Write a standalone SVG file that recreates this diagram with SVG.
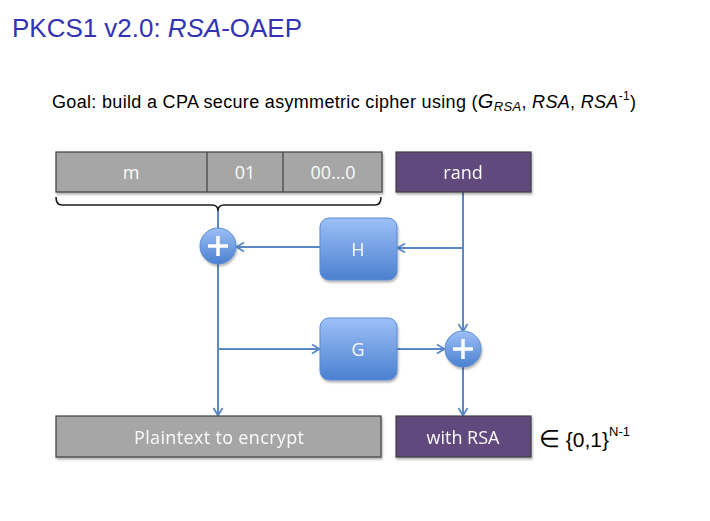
<svg xmlns="http://www.w3.org/2000/svg" width="710" height="521" viewBox="0 0 710 521">
<style>
  .title{font-family:"Liberation Sans",Arial,sans-serif;font-size:25px;fill:#3333b3}
  .goal{font-family:"Liberation Sans",Arial,sans-serif;font-size:18px;fill:#000}
  .lbl{font-family:"Open Sans","Liberation Sans",sans-serif;font-size:18px;fill:#fbfbfb;text-anchor:middle}
  .gray{fill:#a6a6a6;stroke:#3f3f3f;stroke-width:1.2}
  .purple{fill:#604a7b;stroke:#3f3f3f;stroke-width:1.2}
  .fn{fill:url(#bg);stroke:#5b8bd0;stroke-width:1}
  .conn{stroke:#5a87c5;stroke-width:2;fill:none}
  .brace{stroke:#1a1a1a;stroke-width:1.6;fill:none}
  .arr{stroke:#5a87c5;stroke-width:2;fill:none;marker-end:url(#ah)}
  .plus{stroke:#fff;stroke-width:3.5;stroke-linecap:butt}
  .math{font-family:"Liberation Sans",Arial,sans-serif;fill:#000}
</style>
<defs>
  <linearGradient id="bg" x1="0" y1="0" x2="0" y2="1">
    <stop offset="0" stop-color="#9dc0f7"/>
    <stop offset="1" stop-color="#4a80d0"/>
  </linearGradient>
  <filter id="sh" x="-10%" y="-10%" width="130%" height="140%">
    <feDropShadow dx="1" dy="2" stdDeviation="1.2" flood-color="#000" flood-opacity="0.3"/>
  </filter>
  <marker id="ah" markerWidth="12" markerHeight="12" refX="9" refY="6" orient="auto" markerUnits="userSpaceOnUse">
    <path d="M2,1.5 L9.5,6 L2,10.5" fill="none" stroke="#5a87c5" stroke-width="1.8"/>
  </marker>
</defs>
<rect width="710" height="521" fill="#fff"/>
<text class="title" x="12" y="37" textLength="290" lengthAdjust="spacingAndGlyphs">PKCS1 v2.0:  <tspan font-style="italic">RSA</tspan>-OAEP</text>
<text class="goal" x="52" y="108" textLength="584" lengthAdjust="spacing">Goal:  build a CPA secure asymmetric cipher using (<tspan font-style="italic" font-size="20">G</tspan><tspan font-style="italic" font-size="13" dy="3">RSA</tspan><tspan dy="-3">, </tspan><tspan font-style="italic">RSA</tspan>, <tspan font-style="italic">RSA</tspan><tspan font-size="12" dy="-8">-1</tspan><tspan dy="8">)</tspan></text>

<g id="connectors">
  <path class="brace" d="M56,197 Q56,205 62,205 L212,205 Q218,205 218,211 Q218,205 224,205 L375,205 Q381,205 381,197"/>
  <line class="conn" x1="218" y1="211" x2="218" y2="229"/>
  <line class="conn" x1="463" y1="192" x2="463" y2="248"/>
  <line class="arr" x1="463" y1="248" x2="398" y2="248"/>
  <line class="arr" x1="320" y1="247" x2="237" y2="247"/>
  <line class="arr" x1="463" y1="248" x2="463" y2="331"/>
  <line class="arr" x1="218" y1="264" x2="218" y2="415"/>
  <line class="arr" x1="218" y1="349" x2="319" y2="349"/>
  <line class="arr" x1="397" y1="349" x2="444" y2="349"/>
  <line class="arr" x1="463" y1="367" x2="463" y2="415"/>
</g>

<g id="top-bar" filter="url(#sh)">
  <rect class="gray" x="56" y="152" width="326" height="40"/>
  <line stroke="#3f3f3f" stroke-width="1.2" x1="207" y1="152" x2="207" y2="192"/>
  <line stroke="#3f3f3f" stroke-width="1.2" x1="283" y1="152" x2="283" y2="192"/>
</g>
<g id="m"><text class="lbl" x="131" y="179">m</text></g>
<g id="b01"><text class="lbl" x="245" y="179">01</text></g>
<g id="zeros"><text class="lbl" x="333" y="179">00…0</text></g>

<g id="rand" filter="url(#sh)">
  <rect class="purple" x="396" y="152" width="135" height="40"/>
  <text class="lbl" x="463" y="179">rand</text>
</g>

<g id="xor1" filter="url(#sh)">
  <circle cx="218" cy="246" r="18" fill="url(#bg)" stroke="#5b8bd0"/>
  <line class="plus" x1="208" y1="246" x2="228" y2="246"/>
  <line class="plus" x1="218" y1="236" x2="218" y2="256"/>
</g>

<g id="H" filter="url(#sh)">
  <rect class="fn" x="320" y="218" width="77" height="62" rx="9"/>
  <text class="lbl" x="358" y="256" font-size="17">H</text>
</g>

<g id="G" filter="url(#sh)">
  <rect class="fn" x="320" y="318" width="77" height="62" rx="9"/>
  <text class="lbl" x="358" y="356" font-size="17">G</text>
</g>

<g id="xor2" filter="url(#sh)">
  <circle cx="463" cy="349" r="18" fill="url(#bg)" stroke="#5b8bd0"/>
  <line class="plus" x1="453" y1="349" x2="473" y2="349"/>
  <line class="plus" x1="463" y1="339" x2="463" y2="359"/>
</g>

<g id="plaintext" filter="url(#sh)">
  <rect class="gray" x="56" y="416" width="325" height="41"/>
  <text class="lbl" x="219" y="444" font-size="19" textLength="170">Plaintext to encrypt</text>
</g>

<g id="withrsa" filter="url(#sh)">
  <rect class="purple" x="396" y="416" width="135" height="41"/>
  <text class="lbl" x="463" y="444" font-size="19">with RSA</text>
</g>

<g id="set">
  <text class="math" x="539" y="447" font-size="21"><tspan font-size="24">∈</tspan> {0,1}<tspan font-size="13" dy="-11">N-1</tspan></text>
</g>
</svg>
